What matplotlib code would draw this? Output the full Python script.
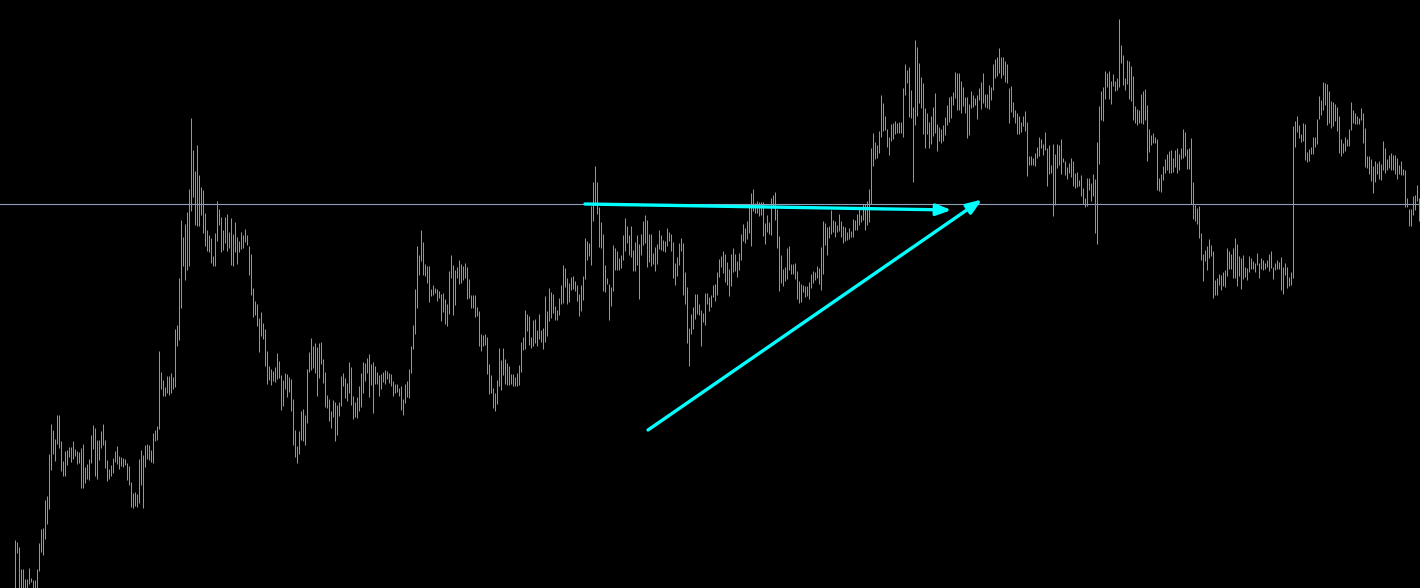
import numpy as np
import matplotlib
matplotlib.use("Agg")
import matplotlib.pyplot as plt
from matplotlib.patches import FancyArrowPatch

# Bar highs / lows (price points), one entry per bar, oldest first
highs = [
    60, 58, 53, 31, 31, 21, 21, 32, 22, 20,
    20, 31, 57, 71, 72, 100, 104, 146, 176, 170,
    161, 185, 185, 159, 139, 149, 150, 153, 153, 159,
    151, 149, 148, 152, 156, 133, 136, 141, 165, 175,
    172, 160, 160, 169, 176, 160, 140, 131, 135, 142,
    149, 154, 144, 143, 142, 141, 137, 134, 118, 107,
    108, 106, 141, 150, 145, 155, 156, 155, 150, 167,
    170, 174, 249, 228, 220, 213, 224, 224, 227, 223,
    271, 275, 322, 380, 363, 376, 388, 411, 482, 450,
    429, 455, 425, 413, 410, 387, 370, 365, 362, 344,
    367, 399, 391, 383, 370, 383, 386, 368, 382, 366,
    378, 363, 359, 368, 365, 371, 365, 354, 346, 312,
    299, 296, 282, 288, 277, 271, 249, 234, 231, 229,
    233, 247, 239, 225, 220, 227, 226, 223, 221, 201,
    170, 154, 169, 189, 191, 185, 231, 248, 262, 254,
    257, 253, 257, 258, 241, 228, 205, 201, 189, 200,
    198, 195, 198, 224, 227, 222, 217, 238, 233, 204,
    198, 203, 214, 227, 238, 237, 242, 246, 236, 238,
    234, 228, 225, 226, 228, 230, 229, 227, 226, 219,
    216, 216, 212, 214, 201, 216, 219, 231, 254, 275,
    311, 354, 345, 370, 358, 336, 334, 334, 311, 315,
    312, 311, 309, 306, 307, 301, 296, 329, 345, 335,
    330, 333, 340, 336, 334, 337, 333, 321, 305, 305,
    305, 293, 289, 266, 265, 266, 263, 236, 225, 212,
    207, 220, 252, 240, 252, 241, 237, 234, 226, 226,
    223, 227, 235, 258, 263, 290, 286, 284, 263, 280,
    281, 270, 286, 270, 272, 304, 289, 312, 308, 306,
    294, 290, 302, 315, 335, 332, 322, 317, 323, 324,
    319, 315, 306, 315, 324, 362, 359, 357, 394, 418,
    434, 418, 393, 378, 366, 335, 322, 316, 313, 355,
    352, 349, 342, 345, 365, 382, 374, 365, 374, 350,
    358, 365, 356, 366, 379, 385, 380, 366, 366, 347,
    353, 356, 370, 365, 360, 359, 372, 368, 366, 358,
    337, 343, 357, 362, 357, 328, 313, 272, 286, 293,
    306, 306, 296, 290, 287, 307, 307, 303, 305, 315,
    316, 328, 341, 344, 349, 346, 338, 331, 346, 352,
    346, 339, 347, 366, 376, 372, 379, 396, 407, 411,
    397, 399, 398, 398, 398, 377, 385, 378, 402, 405,
    408, 391, 364, 345, 331, 333, 352, 354, 336, 336,
    337, 329, 319, 316, 315, 314, 314, 318, 326, 329,
    328, 334, 332, 353, 379, 377, 373, 374, 390, 380,
    379, 375, 386, 379, 374, 373, 368, 372, 369, 381,
    380, 386, 391, 385, 396, 396, 399, 411, 452, 467,
    458, 455, 469, 505, 497, 484, 471, 463, 476, 477,
    479, 477, 478, 478, 512, 536, 530, 533, 510, 493,
    560, 553, 537, 523, 517, 492, 487, 478, 484, 493,
    507, 476, 473, 471, 475, 483, 495, 503, 504, 508,
    528, 527, 527, 519, 513, 503, 503, 496, 509, 505,
    502, 505, 512, 518, 527, 506, 506, 515, 513, 536,
    541, 543, 552, 543, 543, 539, 536, 512, 514, 498,
    490, 487, 484, 478, 484, 489, 478, 444, 444, 442,
    447, 453, 463, 461, 456, 468, 452, 455, 435, 456,
    446, 456, 455, 461, 442, 439, 433, 437, 442, 439,
    427, 428, 420, 425, 412, 402, 422, 422, 417, 426,
    421, 458, 494, 509, 513, 529, 527, 529, 519, 526,
    519, 522, 581, 555, 545, 522, 540, 539, 534, 524,
    494, 491, 490, 506, 509, 511, 495, 471, 465, 467,
    463, 461, 422, 426, 434, 441, 446, 449, 450, 442,
    450, 452, 446, 452, 471, 468, 451, 452, 462, 418,
    395, 392, 394, 367, 346, 350, 354, 361, 355, 349,
    320, 322, 326, 325, 328, 330, 352, 349, 346, 352,
    362, 356, 344, 342, 345, 333, 332, 344, 342, 339,
    337, 347, 337, 342, 340, 337, 340, 346, 349, 333,
    337, 340, 338, 343, 333, 337, 333, 323, 328, 474,
    479, 484, 475, 466, 477, 476, 448, 451, 453, 463,
    463, 481, 504, 500, 518, 517, 516, 509, 499, 498,
    496, 493, 484, 461, 457, 463, 461, 471, 498, 490,
    487, 484, 482, 492, 487, 472, 444, 444, 441, 434,
    439, 437, 439, 436, 459, 452, 441, 445, 447, 445,
    445, 442, 435, 439, 431, 430, 402, 391, 391, 404,
    405, 415, 402,
]

lows = [
    8, 47, 10, 10, 10, 10, 10, 16, 18, 10,
    10, 10, 29, 48, 45, 61, 76, 91, 130, 146,
    139, 156, 152, 129, 124, 124, 135, 143, 138, 141,
    144, 136, 137, 112, 112, 117, 121, 120, 137, 151,
    124, 121, 140, 152, 155, 132, 119, 121, 124, 127,
    138, 136, 131, 134, 133, 135, 120, 115, 93, 92,
    94, 93, 97, 115, 92, 133, 141, 140, 138, 137,
    159, 160, 171, 211, 204, 204, 207, 205, 207, 211,
    213, 254, 260, 292, 334, 320, 330, 334, 389, 403,
    375, 374, 374, 385, 367, 354, 349, 348, 337, 334,
    334, 359, 375, 348, 350, 357, 349, 352, 335, 334,
    348, 336, 348, 351, 352, 358, 355, 325, 305, 283,
    285, 274, 248, 264, 261, 234, 216, 220, 215, 219,
    218, 221, 222, 190, 194, 211, 203, 208, 189, 155,
    143, 137, 146, 160, 159, 155, 177, 228, 230, 232,
    227, 204, 222, 236, 217, 193, 192, 179, 172, 183,
    159, 165, 184, 194, 214, 202, 199, 207, 195, 181,
    183, 182, 189, 193, 207, 219, 227, 203, 215, 187,
    216, 216, 204, 211, 218, 216, 221, 217, 214, 204,
    207, 208, 204, 190, 185, 197, 203, 202, 227, 251,
    266, 292, 325, 339, 325, 324, 317, 298, 304, 305,
    307, 299, 302, 279, 288, 276, 274, 286, 322, 285,
    295, 322, 316, 317, 320, 322, 301, 302, 292, 292,
    283, 284, 254, 249, 254, 255, 226, 206, 207, 192,
    189, 196, 214, 210, 225, 216, 215, 215, 216, 214,
    214, 214, 215, 228, 250, 251, 269, 255, 252, 254,
    257, 254, 261, 258, 251, 258, 264, 279, 282, 287,
    280, 280, 285, 296, 297, 313, 296, 298, 310, 311,
    309, 299, 284, 289, 300, 321, 340, 344, 335, 379,
    395, 386, 353, 352, 309, 308, 316, 280, 294, 309,
    330, 330, 330, 332, 340, 349, 357, 345, 343, 329,
    329, 335, 301, 345, 355, 357, 333, 338, 334, 336,
    329, 336, 351, 350, 349, 348, 354, 359, 349, 322,
    315, 324, 335, 349, 305, 296, 257, 234, 266, 271,
    281, 286, 285, 254, 278, 275, 296, 289, 293, 303,
    299, 305, 323, 333, 327, 318, 315, 304, 314, 328,
    329, 323, 330, 340, 359, 357, 361, 367, 354, 389,
    387, 387, 384, 385, 364, 356, 368, 366, 365, 393,
    380, 352, 309, 317, 314, 319, 321, 330, 326, 326,
    321, 301, 297, 298, 308, 303, 304, 301, 312, 317,
    320, 322, 316, 310, 326, 355, 345, 362, 366, 368,
    363, 368, 369, 363, 357, 359, 360, 361, 363, 363,
    370, 370, 375, 378, 380, 370, 375, 378, 396, 434,
    441, 442, 447, 463, 469, 470, 453, 445, 459, 461,
    466, 467, 467, 467, 463, 505, 517, 483, 482, 418,
    475, 484, 497, 492, 466, 452, 466, 452, 456, 464,
    467, 449, 459, 457, 459, 465, 475, 478, 482, 495,
    502, 490, 490, 487, 494, 487, 462, 465, 492, 493,
    495, 481, 500, 491, 497, 493, 492, 491, 500, 510,
    522, 524, 527, 522, 525, 518, 517, 477, 488, 483,
    477, 466, 466, 468, 474, 469, 424, 435, 435, 435,
    434, 442, 444, 452, 445, 450, 414, 426, 427, 384,
    395, 432, 435, 426, 438, 425, 421, 427, 423, 414,
    412, 413, 414, 404, 396, 393, 394, 410, 399, 404,
    367, 356, 436, 480, 479, 501, 513, 501, 496, 514,
    509, 510, 513, 537, 515, 510, 516, 501, 499, 480,
    477, 475, 477, 477, 476, 480, 439, 448, 455, 457,
    457, 410, 409, 408, 420, 427, 430, 427, 427, 428,
    433, 427, 430, 441, 442, 444, 431, 431, 396, 381,
    379, 376, 362, 340, 319, 339, 330, 342, 344, 302,
    305, 305, 315, 310, 314, 313, 324, 331, 331, 322,
    322, 314, 324, 311, 321, 323, 320, 328, 331, 331,
    328, 335, 322, 331, 330, 331, 333, 329, 332, 321,
    330, 331, 331, 310, 306, 325, 312, 314, 315, 322,
    453, 468, 462, 458, 459, 440, 438, 439, 446, 446,
    453, 456, 481, 485, 490, 495, 475, 477, 472, 474,
    479, 469, 447, 444, 447, 449, 454, 454, 470, 477,
    476, 476, 476, 480, 457, 433, 432, 426, 419, 407,
    418, 426, 421, 420, 430, 427, 430, 432, 430, 430,
    426, 421, 426, 425, 425, 393, 393, 374, 374, 385,
    390, 399, 379,
]

# Horizontal level and drawn arrows (bar index, price)
level_price = 396
arrow_starts = [(285.25, 396), (316.75, 170)]
arrow_ends = [(468.5, 390), (483.75, 400.5)]

BG = "black"
BAR_COLOR = "#00FF00"
LEVEL_COLOR = "#8EA0B8"
ARROW_COLOR = "#00FFFF"

fig = plt.figure(figsize=(14.2, 5.88), dpi=100)
fig.patch.set_facecolor(BG)
ax = fig.add_axes([0, 0, 1, 1])
ax.set_facecolor(BG)

idx = np.arange(len(highs))
ax.vlines(idx, lows, highs, colors=BAR_COLOR, linewidth=0.72, zorder=2)

ax.axhline(level_price, color=LEVEL_COLOR, linewidth=0.8, zorder=1)

for (x0, y0), (x1, y1) in zip(arrow_starts, arrow_ends):
    arr = FancyArrowPatch((x0, y0), (x1, y1),
                          arrowstyle="-|>,head_length=9,head_width=3.4",
                          mutation_scale=1, color=ARROW_COLOR,
                          linewidth=2.4, shrinkA=0, shrinkB=0, zorder=3)
    ax.add_patch(arr)

ax.set_xlim(-7.25, 702.75)
ax.set_ylim(12, 600)
ax.axis("off")

fig.savefig("out.png", dpi=100, facecolor=BG)
